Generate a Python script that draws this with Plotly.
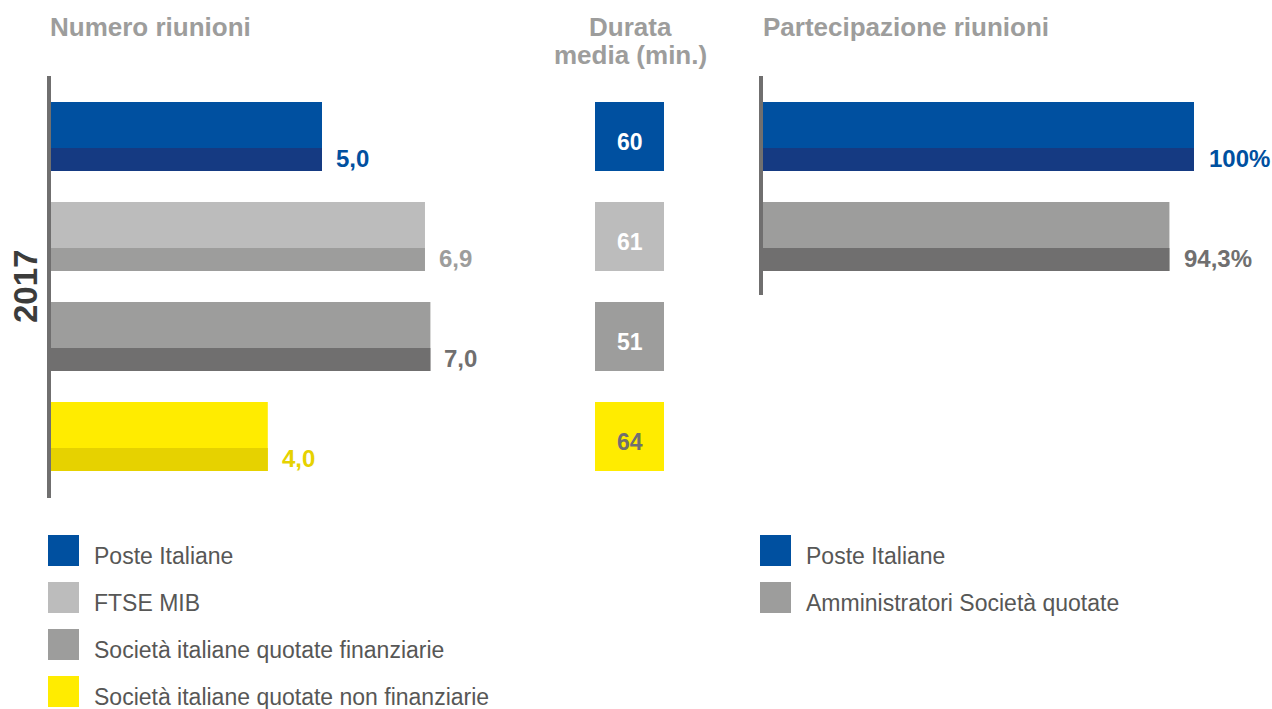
import plotly.graph_objects as go

W, H = 1272, 709

# data
categories = ["Poste Italiane", "FTSE MIB", "Società italiane quotate finanziarie",
              "Società italiane quotate non finanziarie"]
riunioni = [5.0, 6.9, 7.0, 4.0]
durata = [60, 61, 51, 64]
part_categories = ["Poste Italiane", "Amministratori Società quotate"]
partecipazione = [100, 94.3]
year_label = "2017"

# colours
light = ["#0050a0", "#bcbcbc", "#9d9d9c", "#ffec00"]
dark = ["#153a82", "#9d9d9c", "#706f6f", "#e6d200"]
label_col = ["#0050a0", "#9d9d9c", "#706f6f", "#e6d200"]
square_txt = ["#ffffff", "#ffffff", "#ffffff", "#706f6f"]
part_light = ["#0050a0", "#9d9d9c"]
part_dark = ["#153a82", "#706f6f"]
part_label_col = ["#0050a0", "#706f6f"]

FONT = "Liberation Sans, Arial, sans-serif"
TITLE_COL = "#9d9d9c"


def fx(px):
    return px / W


def fy(py):
    return 1 - py / H


def fmt(v, suffix=""):
    return ("%g" % v).replace(".", ",") + suffix


BAR_W = 0.69
DARK_W = 0.23
DARK_OFF = BAR_W / 2 - DARK_W / 2

idx = list(range(len(categories)))
pidx = list(range(len(part_categories)))

fig = go.Figure()

# left panel: numero riunioni
fig.add_trace(go.Bar(x=riunioni, y=idx, orientation="h", width=BAR_W,
                     marker=dict(color=light, line_width=0), xaxis="x", yaxis="y",
                     hoverinfo="skip"))
fig.add_trace(go.Bar(x=riunioni, y=[i + DARK_OFF for i in idx], orientation="h", width=DARK_W,
                     marker=dict(color=dark, line_width=0), xaxis="x", yaxis="y",
                     hoverinfo="skip"))

# middle: durata media squares
fig.add_trace(go.Bar(x=[1] * len(durata), y=idx, orientation="h", width=BAR_W,
                     marker=dict(color=light, line_width=0), xaxis="x2", yaxis="y2",
                     hoverinfo="skip"))

# right panel: partecipazione
fig.add_trace(go.Bar(x=partecipazione, y=pidx, orientation="h", width=BAR_W,
                     marker=dict(color=part_light, line_width=0), xaxis="x3", yaxis="y3",
                     hoverinfo="skip"))
fig.add_trace(go.Bar(x=partecipazione, y=[i + DARK_OFF for i in pidx], orientation="h",
                     width=DARK_W, marker=dict(color=part_dark, line_width=0),
                     xaxis="x3", yaxis="y3", hoverinfo="skip"))

annotations = []
for i, v in enumerate(riunioni):
    annotations.append(dict(x=v, y=i + DARK_OFF - 0.01, xref="x", yref="y",
                            text=("%.1f" % v).replace(".", ","),
                            showarrow=False, xanchor="left", yanchor="middle", xshift=12,
                            font=dict(family=FONT, size=24, color=label_col[i], weight="bold")))
for i, v in enumerate(durata):
    annotations.append(dict(x=0.5, y=i, xref="x2", yref="y2", text=str(v), showarrow=False,
                            xanchor="center", yanchor="middle", yshift=-5,
                            font=dict(family=FONT, size=23, color=square_txt[i], weight="bold")))
for i, v in enumerate(partecipazione):
    annotations.append(dict(x=v, y=i + DARK_OFF - 0.01, xref="x3", yref="y3", text=fmt(v, "%"),
                            showarrow=False, xanchor="left", yanchor="middle", xshift=13,
                            font=dict(family=FONT, size=24, color=part_label_col[i], weight="bold")))

# titles
title_font = dict(family=FONT, size=26, color=TITLE_COL, weight="bold")
annotations.append(dict(x=fx(48), y=fy(27), xref="paper", yref="paper", text="Numero riunioni",
                        showarrow=False, xanchor="left", yanchor="middle", font=title_font))
for k, line in enumerate(["Durata", "media (min.)"]):
    annotations.append(dict(x=fx(630), y=fy(27 + 28 * k), xref="paper", yref="paper",
                            text=line, showarrow=False, xanchor="center",
                            yanchor="middle", font=title_font))
annotations.append(dict(x=fx(761), y=fy(27), xref="paper", yref="paper",
                        text="Partecipazione riunioni", showarrow=False, xanchor="left",
                        yanchor="middle", font=title_font))
annotations.append(dict(x=fx(25), y=fy(287), xref="paper", yref="paper", text=year_label,
                        showarrow=False, textangle=-90, xanchor="center", yanchor="middle",
                        font=dict(family=FONT, size=33, color="#3c3c3b", weight="bold")))

# legends
shapes = []
LEG_TOP, LEG_STEP, SQ = 535, 47, 31
leg_font = dict(family=FONT, size=23, color="#575756")
for i, name in enumerate(categories):
    top = LEG_TOP + i * LEG_STEP
    shapes.append(dict(type="rect", xref="paper", yref="paper", x0=fx(48), x1=fx(48 + SQ),
                       y0=fy(top + SQ), y1=fy(top), fillcolor=light[i], line_width=0))
    annotations.append(dict(x=fx(92), y=fy(top + SQ / 2 + 5), xref="paper", yref="paper",
                            text=name, showarrow=False, xanchor="left", yanchor="middle",
                            font=leg_font))
for i, name in enumerate(part_categories):
    top = LEG_TOP + i * LEG_STEP
    shapes.append(dict(type="rect", xref="paper", yref="paper", x0=fx(760), x1=fx(760 + SQ),
                       y0=fy(top + SQ), y1=fy(top), fillcolor=part_light[i], line_width=0))
    annotations.append(dict(x=fx(804), y=fy(top + SQ / 2 + 5), xref="paper", yref="paper",
                            text=name, showarrow=False, xanchor="left", yanchor="middle",
                            font=leg_font))

PX_UNIT = 54.2
left_y_range = [3.615, -0.605]
right_y_range = [1.585, -0.605]
hidden = dict(visible=False, fixedrange=True)
yline = dict(showline=True, linecolor="#706f6f", linewidth=4, showticklabels=False,
             showgrid=False, zeroline=False, ticks="", fixedrange=True)

fig.update_layout(
    width=W, height=H, margin=dict(l=0, r=0, t=0, b=0),
    paper_bgcolor="white", plot_bgcolor="white",
    barmode="overlay", showlegend=False,
    font=dict(family=FONT),
    xaxis=dict(domain=[fx(51), fx(51 + PX_UNIT * 8)], range=[0, 8], anchor="y", **hidden),
    yaxis=dict(domain=[fy(498), fy(76)], range=left_y_range, anchor="x", **yline),
    xaxis2=dict(domain=[fx(595), fx(664)], range=[0, 1], anchor="y2", **hidden),
    yaxis2=dict(domain=[fy(498), fy(76)], range=left_y_range, anchor="x2", **hidden),
    xaxis3=dict(domain=[fx(763), fx(1194)], range=[0, 100], anchor="y3", **hidden),
    yaxis3=dict(domain=[fy(295), fy(76)], range=right_y_range, anchor="x3", **yline),
    annotations=annotations, shapes=shapes,
)

fig.write_html("out.html", config={"displayModeBar": False},
               post_script="document.body.style.margin='0';document.body.style.overflow='hidden';")
